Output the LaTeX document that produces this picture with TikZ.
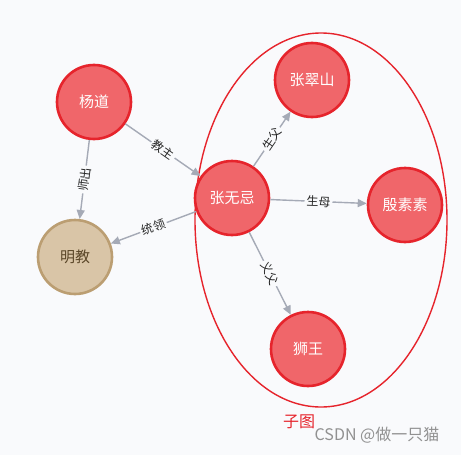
\documentclass[tikz,border=0pt]{standalone}
\usepackage{fontspec}
\setmainfont{Noto Sans CJK SC}
\usetikzlibrary{arrows.meta,shapes.geometric}
\definecolor{bgwhite}{RGB}{249,250,252}
\definecolor{nodered}{RGB}{240,102,106}
\definecolor{rimred}{RGB}{230,36,44}
\definecolor{nodetan}{RGB}{217,197,167}
\definecolor{rimtan}{RGB}{187,158,114}
\definecolor{inktan}{RGB}{90,70,40}
\definecolor{edgegray}{RGB}{165,170,182}
\definecolor{markgray}{RGB}{145,145,145}

\begin{document}
\begin{tikzpicture}[x=1pt,y=-1pt,
  person/.style={circle,draw=rimred,fill=nodered,line width=2.6pt,minimum size=74pt,
    inner sep=0pt,text=white,font=\fontsize{15}{15}\selectfont},
  sect/.style={person,draw=rimtan,fill=nodetan,text=inktan},
  rel/.style={draw=edgegray,line width=1.4pt,-{Triangle[length=9pt,width=8pt]}},
  tag/.style={midway,sloped,fill=bgwhite,inner sep=2pt,text=black!85,
    font=\fontsize{12}{12}\selectfont}]
  \useasboundingbox[fill=bgwhite] (0,0) rectangle (461,455);
  % the subgraph frame
  \node[ellipse,draw=rimred,line width=1.4pt,minimum width=252pt,minimum height=374pt,
    inner sep=0pt] (sub) at (321,220) {};
  \node[text=rimred,font=\fontsize{16}{16}\selectfont] (subtag) at (299,422) {子图};
  % people
  \node[person] (yang) at (94,102) {杨道};
  \node[sect] (ming) at (75,257) {明教};
  \node[person] (wuji) at (232,198) {张无忌};
  \node[person] (cuishan) at (312,80) {张翠山};
  \node[person] (susu) at (405,205) {殷素素};
  \node[person] (shiwang) at (308,349) {狮王};
  % relations
  \draw[rel] (yang) -- node[tag]{师出} (ming);
  \draw[rel] (yang) -- node[tag]{教主} (wuji);
  \draw[rel] (wuji) -- node[tag]{统领} (ming);
  \draw[rel] (wuji) -- node[tag]{生父} (cuishan);
  \draw[rel] (wuji) -- node[tag]{生母} (susu);
  \draw[rel] (wuji) -- node[tag]{义父} (shiwang);
  \node[text=markgray,font=\fontsize{16}{16}\selectfont] (mark) at (377,435) {CSDN @做一只猫};
\end{tikzpicture}
\end{document}
